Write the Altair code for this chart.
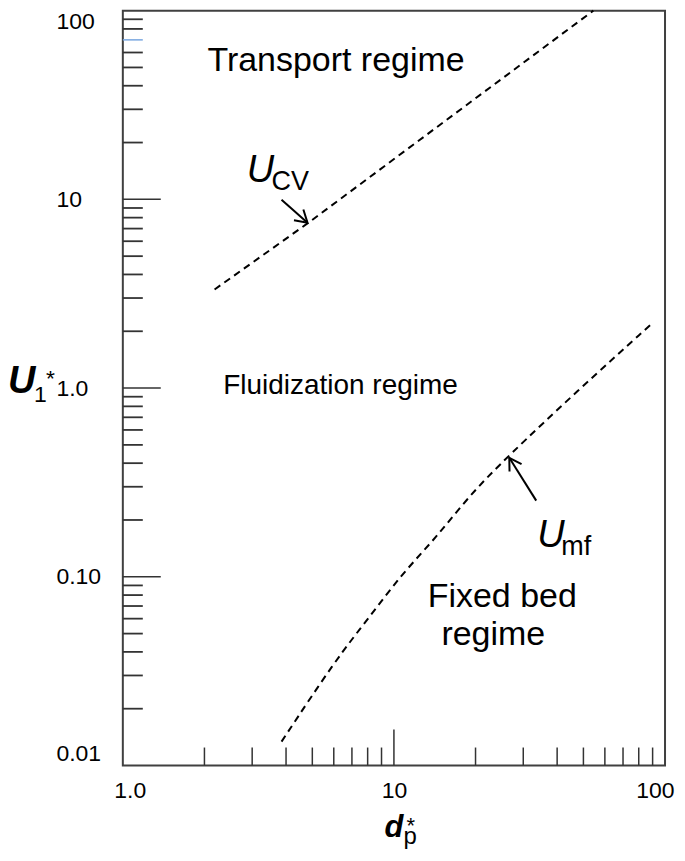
import altair as alt
import pandas as pd

# ---------------- data ----------------
x_label_vals = [1, 10, 100]
y_label_vals = [0.01, 0.1, 1, 10, 100]
x_minor = [2, 3, 4, 5, 6, 7, 8, 9, 20, 30, 40, 50, 60, 70, 80, 90]
x_major = [10]
y_minor = [0.02, 0.03, 0.04, 0.05, 0.06, 0.07, 0.08, 0.09,
           0.2, 0.3, 0.4, 0.5, 0.6, 0.7, 0.8, 0.9,
           2, 3, 4, 5, 6, 7, 8, 9,
           20, 30, 40, 50, 60, 80, 90]
y_minor_blue = [70]
y_major = [0.1, 1, 10]

ucv_dp = [2.18, 4.84, 54.4]
ucv_u = [3.33, 7.52, 100]
umf_dp = [3.85, 6.09, 8.12, 10.75, 14.34, 18.97, 25.97, 47.4, 88.8]
umf_u = [0.01338, 0.03626, 0.0611, 0.1044, 0.1616, 0.2692, 0.4272, 0.9643, 2.176]

region_text = ["Transport regime", "Fixed bed", "regime"]
region_dp = [6.115, 25.09, 23.25]
region_u = [47.7, 0.06904, 0.0435]
fluid_text = ["Fluidization regime"]
fluid_dp = [6.353]
fluid_u = [0.9296]

# curve labels: anchor of the "U"
ucv_label = (2.862, 12.37)
umf_label = (33.78, 0.1431)
# arrows: tail -> tip
ucv_arrow = ((3.85, 9.94), (4.80, 7.52))
umf_arrow = ((33.49, 0.2533), (26.64, 0.4272))

FONT = "Liberation Sans"
W, H = 543, 756

xs = alt.Scale(type="log", domain=[1, 100], nice=False)
ys = alt.Scale(type="log", domain=[0.01, 100], nice=False)

xaxis = alt.Axis(values=x_label_vals, ticks=False, tickSize=0, domain=False, grid=False,
                 labelExpr="datum.value >= 10 ? format(datum.value, 'd') : format(datum.value, '.1f')",
                 labelFont=FONT, labelFontSize=23, labelColor="black", labelPadding=14,
                 labelFlush=True, labelFlushOffset=9, title=None)
yaxis = alt.Axis(values=y_label_vals, ticks=False, tickSize=0, domain=False, grid=False,
                 labelExpr="datum.value >= 10 ? format(datum.value, 'd') : datum.value >= 1 ? format(datum.value, '.1f') : format(datum.value, '.2f')",
                 labelFont=FONT, labelFontSize=23, labelColor="black", labelPadding=67,
                 labelAlign="left", labelFlush=True, title=None)


def X(f="x"):
    return alt.X(f + ":Q", scale=xs, axis=xaxis)


def Y(f="y"):
    return alt.Y(f + ":Q", scale=ys, axis=yaxis)


# dashed curves
ucv = alt.Chart(pd.DataFrame({"x": ucv_dp, "y": ucv_u})).mark_line(
    strokeDash=[7, 5], strokeWidth=2, color="black").encode(x=X(), y=Y())
umf = alt.Chart(pd.DataFrame({"x": umf_dp, "y": umf_u})).mark_line(
    strokeDash=[7, 5], strokeWidth=2, color="black", interpolate="basis").encode(x=X(), y=Y())

# ticks (inward)
TC = "#333333"
xminor = alt.Chart(pd.DataFrame({"x": x_minor})).mark_rule(color=TC, strokeWidth=1.5).encode(
    x=X(), y=alt.value(H), y2=alt.value(H - 18))
xmajor = alt.Chart(pd.DataFrame({"x": x_major})).mark_rule(color=TC, strokeWidth=1.5).encode(
    x=X(), y=alt.value(H), y2=alt.value(H - 36))
yminor = alt.Chart(pd.DataFrame({"y": y_minor})).mark_rule(color=TC, strokeWidth=1.8).encode(
    y=Y(), x=alt.value(0), x2=alt.value(20))
yminor_b = alt.Chart(pd.DataFrame({"y": y_minor_blue})).mark_rule(color="#7aa7e0", strokeWidth=1.5).encode(
    y=Y(), x=alt.value(0), x2=alt.value(20))
ymajor = alt.Chart(pd.DataFrame({"y": y_major})).mark_rule(color=TC, strokeWidth=1.5).encode(
    y=Y(), x=alt.value(0), x2=alt.value(38))

# region labels
regions = alt.Chart(pd.DataFrame({"x": region_dp, "y": region_u, "t": region_text})).mark_text(
    font=FONT, fontSize=34, color="black", align="center", baseline="alphabetic").encode(
    x=X(), y=Y(), text="t:N")
fluid = alt.Chart(pd.DataFrame({"x": fluid_dp, "y": fluid_u, "t": fluid_text})).mark_text(
    font=FONT, fontSize=28, color="black", align="center",
    baseline="alphabetic").encode(x=X(), y=Y(), text="t:N")


def ulabel(anchor, sub, sub_dx):
    df = pd.DataFrame({"x": [anchor[0]], "y": [anchor[1]]})
    u = alt.Chart(df).mark_text(font=FONT, fontSize=38, fontStyle="italic", color="black",
                                align="left", baseline="alphabetic", text="U").encode(x=X(), y=Y())
    s = alt.Chart(df).mark_text(font=FONT, fontSize=27, color="black", align="left",
                                baseline="alphabetic", text=sub, dx=sub_dx, dy=8).encode(x=X(), y=Y())
    return u + s


ucv_lab = ulabel(ucv_label, "CV", 25)
umf_lab = ulabel(umf_label, "mf", 24)


def arrow(a, angle):
    (x0, y0), (x1, y1) = a
    shaft = alt.Chart(pd.DataFrame({"x": [x0], "y": [y0], "x2": [x1], "y2": [y1]})).mark_rule(
        color="black", strokeWidth=2).encode(x=X(), y=Y(), x2="x2:Q", y2="y2:Q")
    head = alt.Chart(pd.DataFrame({"x": [x1], "y": [y1]})).mark_point(
        shape="M-1,-0.6L0,0L-1,0.6", filled=False, size=560, strokeWidth=2, color="black",
        angle=angle, opacity=1).encode(x=X(), y=Y())
    return shaft + head


ucv_arr = arrow(ucv_arrow, 41.5)
umf_arr = arrow(umf_arrow, 238)


# axis titles (with sub/superscripts)
def ttext(txt, x, y, size, style="normal", weight="normal"):
    return alt.Chart(pd.DataFrame({"a": [0]})).mark_text(
        font=FONT, fontSize=size, fontStyle=style, fontWeight=weight, color="black",
        align="left", baseline="alphabetic", text=txt).encode(x=alt.value(x), y=alt.value(y))


titles = (ttext("U", -115, 383, 38, "italic", "bold") + ttext("1", -89, 392, 23)
          + ttext("*", -77, 376, 23)
          + ttext("d", 262, 828, 31, "italic", "bold") + ttext("p", 281, 835, 24)
          + ttext("*", 284, 824, 22))

chart = alt.layer(
    ucv, umf, xminor, xmajor, yminor, yminor_b, ymajor, regions, fluid,
    ucv_lab, umf_lab, ucv_arr, umf_arr, titles
).properties(
    width=W, height=H,
    autosize=alt.AutoSizeParams(type="none"),
    padding={"left": 115, "top": 2, "right": 12, "bottom": 95},
).configure(background="white").configure_view(stroke="#404040", strokeWidth=2)

chart.save("out.html", embed_options={"renderer": "svg", "actions": False})
